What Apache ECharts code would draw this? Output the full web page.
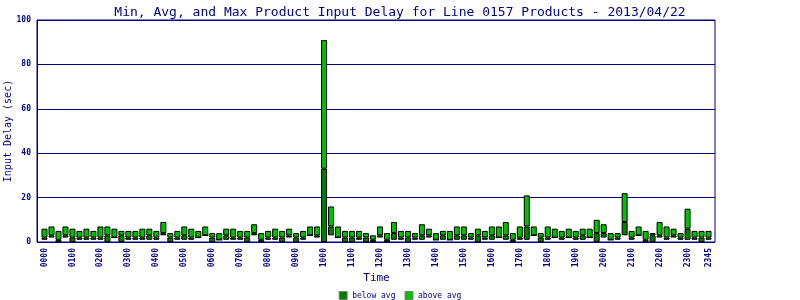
<!DOCTYPE html>
<html>
<head>
<meta charset="utf-8">
<script src="https://cdn.jsdelivr.net/npm/echarts@6/dist/echarts.min.js"></script>
<style>
  html, body { margin: 0; padding: 0; background: #fff; }
  #chart { width: 800px; height: 300px; }
</style>
</head>
<body>
<div id="chart"></div>
<script>
  // 15 minute slots, 0000 .. 2345
  var times = [];
  for (var h = 0; h < 24; h++) {
    ['00', '15', '30', '45'].forEach(function(q) {
      times.push((h < 10 ? '0' : '') + h + q);
    });
  }

  // delay values in seconds, one per slot
  var minVals = [
    1, 2, 0, 2, 0, 1, 1, 1, 1, 0, 2, 0, 1, 1, 1, 1,
    1, 3, 0, 1, 1, 1, 2, 3, 0, 1, 1, 1, 1, 0, 3, 0,
    1, 1, 0, 2, 0, 1, 3, 2, 0, 3, 2, 0, 0, 1, 0, 0,
    2, 0, 1, 1, 0, 1, 1, 2, 1, 1, 1, 1, 1, 1, 0, 1,
    1, 2, 1, 0, 1, 1, 3, 0, 1, 2, 1, 2, 1, 1, 2, 0,
    2, 1, 1, 3, 1, 3, 0, 0, 2, 1, 2, 1, 1, 1, 0, 1
  ];
  var avgVals = [
    2, 3, 1, 3, 2, 2, 2, 2, 2, 3, 2, 3, 2, 2, 2, 3,
    2, 4, 2, 2, 3, 2, 2, 3, 2, 1, 3, 2, 2, 2, 4, 1,
    2, 2, 2, 3, 2, 2, 3, 3, 33, 7, 2, 2, 2, 2, 2, 1,
    3, 1, 4, 2, 2, 2, 3, 3, 1, 3, 1, 3, 3, 2, 3, 2,
    3, 2, 3, 1, 2, 7, 3, 2, 2, 2, 2, 2, 2, 3, 2, 4,
    4, 1, 2, 9, 2, 3, 1, 3, 3, 2, 3, 2, 6, 2, 2, 2
  ];
  var maxVals = [
    6, 7, 5, 7, 6, 5, 6, 5, 7, 7, 6, 5, 5, 5, 6, 6,
    5, 9, 4, 5, 7, 6, 5, 7, 4, 4, 6, 6, 5, 5, 8, 4,
    5, 6, 5, 6, 4, 5, 7, 7, 91, 16, 7, 5, 5, 5, 4, 3,
    7, 4, 9, 5, 5, 4, 8, 6, 4, 5, 5, 7, 7, 4, 6, 5,
    7, 7, 9, 4, 7, 21, 7, 4, 7, 6, 5, 6, 5, 6, 6, 10,
    8, 4, 4, 22, 5, 7, 5, 4, 9, 7, 6, 4, 15, 5, 5, 5
  ];

  var navy = '#000080';
  var mono = 'DejaVu Sans Mono';

  var belowAvg = avgVals.map(function(a, i) { return a - minVals[i]; });
  var aboveAvg = maxVals.map(function(m, i) { return m - avgVals[i]; });

  var chart = echarts.init(document.getElementById('chart'));
  chart.setOption({
    animation: false,
    backgroundColor: '#fff',
    title: {
      text: 'Min, Avg, and Max Product Input Delay for Line 0157 Products - 2013/04/22',
      left: 'center',
      top: 1,
      textStyle: { color: navy, fontFamily: mono, fontSize: 13, fontWeight: 'normal' }
    },
    legend: {
      data: ['below avg', 'above avg'],
      left: 'center',
      top: 291,
      padding: 0,
      itemWidth: 8,
      itemHeight: 8,
      itemGap: 9,
      icon: 'rect',
      itemStyle: { borderColor: '#808080', borderWidth: 1 },
      textStyle: { color: navy, fontFamily: mono, fontSize: 8 }
    },
    grid: [
      // frame and grid lines
      { left: 37, right: 85, top: 20, bottom: 58, outerBoundsMode: 'none',
        show: true, borderColor: navy, borderWidth: 1 },
      // bars, slightly inset like the original
      { left: 41, right: 88, top: 20, bottom: 58, outerBoundsMode: 'none' }
    ],
    xAxis: [
      { type: 'value', gridIndex: 0, show: false, min: 0, max: 1 },
      {
        type: 'category',
        gridIndex: 1,
        data: times,
        axisLine: { show: false },
        axisTick: { show: false },
        axisLabel: {
          interval: function(idx) { return idx % 4 === 0 || idx === times.length - 1; },
          rotate: 90,
          margin: 6,
          color: navy,
          fontFamily: mono,
          fontSize: 8,
          fontWeight: 'bold'
        },
        name: 'Time',
        nameLocation: 'middle',
        nameGap: 31,
        nameMoveOverlap: false,
        nameTextStyle: { color: navy, fontFamily: mono, fontSize: 11 }
      }
    ],
    yAxis: [
      {
        type: 'value',
        gridIndex: 0,
        min: 0,
        max: 100,
        interval: 20,
        axisLine: { show: true, lineStyle: { color: navy } },
        axisTick: { show: false },
        splitLine: { lineStyle: { color: navy, width: 1 } },
        axisLabel: { color: navy, fontFamily: mono, fontSize: 8, fontWeight: 'bold', margin: 6 },
        name: 'Input Delay (sec)',
        nameLocation: 'middle',
        nameGap: 24,
        nameMoveOverlap: false,
        nameTextStyle: { color: navy, fontFamily: mono, fontSize: 10 }
      },
      { type: 'value', gridIndex: 1, min: 0, max: 100, show: false }
    ],
    series: [
      {
        name: 'min',
        type: 'bar',
        xAxisIndex: 1,
        yAxisIndex: 1,
        stack: 'delay',
        barWidth: 6,
        silent: true,
        itemStyle: { color: 'transparent', borderWidth: 0 },
        data: minVals
      },
      {
        name: 'below avg',
        type: 'bar',
        xAxisIndex: 1,
        yAxisIndex: 1,
        stack: 'delay',
        barWidth: 6,
        itemStyle: { color: '#008000', borderColor: '#000', borderWidth: 1 },
        data: belowAvg
      },
      {
        name: 'above avg',
        type: 'bar',
        xAxisIndex: 1,
        yAxisIndex: 1,
        stack: 'delay',
        barWidth: 6,
        itemStyle: { color: '#00c000', borderColor: '#000', borderWidth: 1 },
        data: aboveAvg
      }
    ]
  });
</script>
</body>
</html>
